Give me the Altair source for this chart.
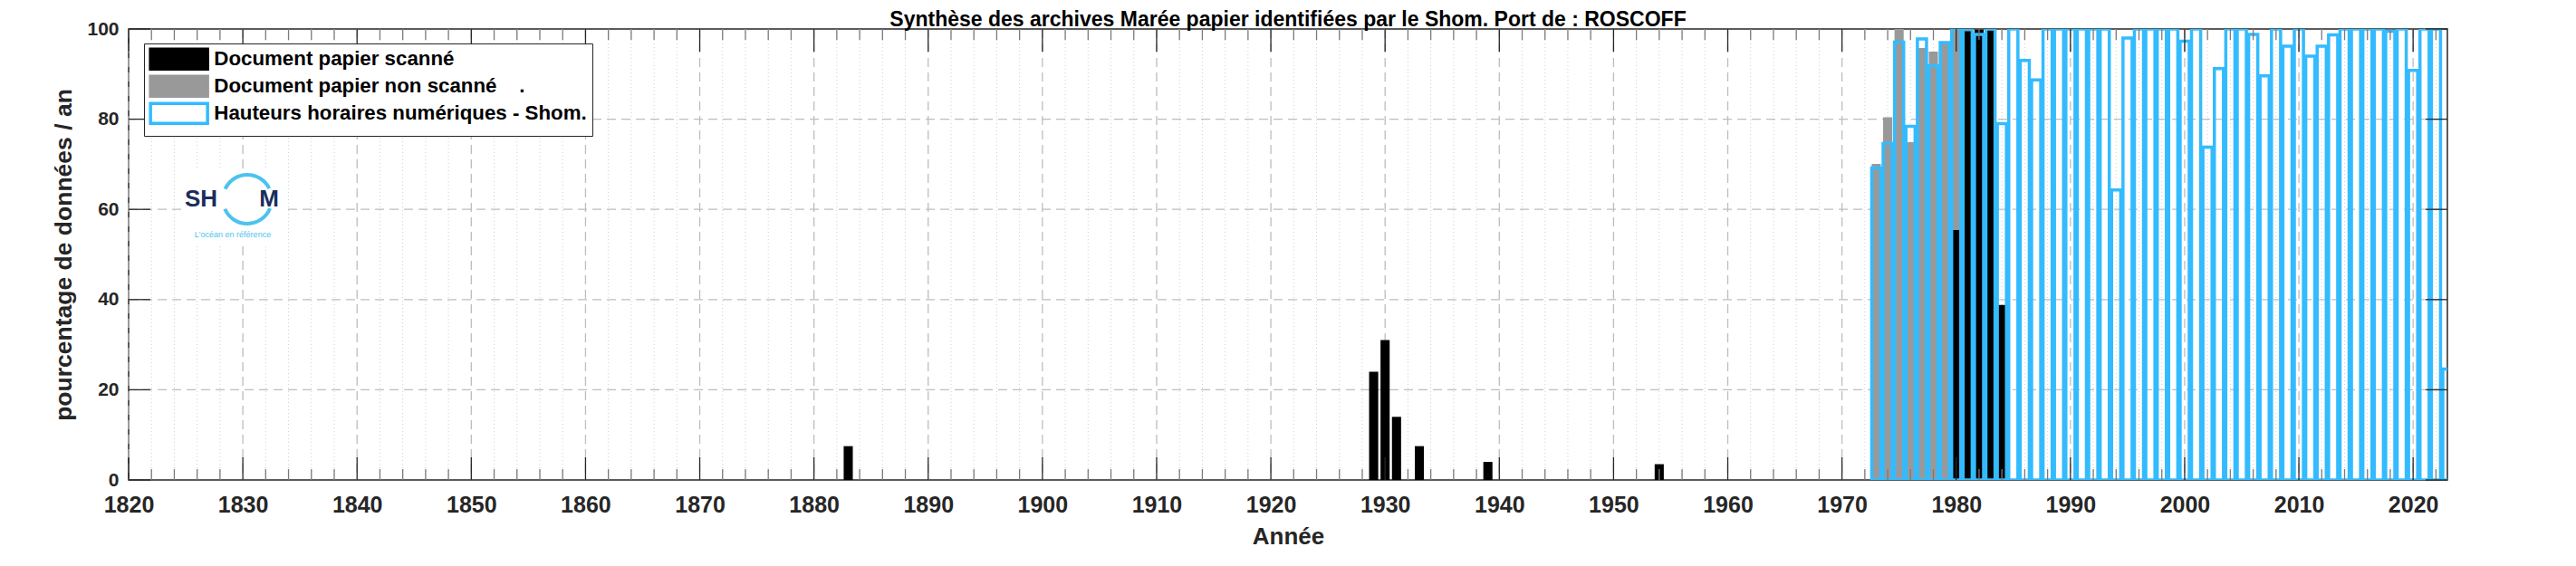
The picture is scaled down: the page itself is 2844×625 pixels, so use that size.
import altair as alt
import pandas as pd

# ---------------- data ----------------
black_years = [1883, 1929, 1930, 1931, 1933, 1939, 1954, 1980, 1981, 1982, 1983, 1984]
black_values = [7.5, 24, 31, 14, 7.5, 4, 3.5, 55.4, 99.5, 99.9, 99.7, 38.8]

gray_years = [1973, 1974, 1975, 1976, 1977, 1978, 1979, 1980, 1981, 1982, 1983]
gray_values = [70.1, 80.4, 100, 74.9, 95.8, 95.0, 97.2, 100, 100, 100, 100]

blue_years = list(range(1973, 2024))
blue_values = [69.2, 74.6, 97.1, 78.4, 97.8, 91.8, 97.0, 100, 100, 98.8,
               100, 79.0, 100, 93.0, 88.7, 100, 100, 100, 100, 100,
               100, 64.3, 98.0, 100, 100, 100, 100, 97.3, 100, 73.8,
               91.2, 100, 100, 98.8, 89.6, 100, 96.2, 100, 94.0, 96.2,
               98.7, 100, 100, 100, 100, 99.5, 100, 90.8, 100, 100,
               24.6]

series_names = ["Document papier scanné",
                "Document papier non scanné\u00a0\u00a0\u00a0\u00a0.",
                "Hauteurs horaires numériques - Shom."]

major_years = list(range(1820, 2021, 10))
minor_years = [y for y in range(1822, 2023, 2) if y % 10 != 0]
y_major = [0, 20, 40, 60, 80, 100]
y_grid = [20, 40, 60, 80]

title_text = "Synthèse des archives Marée papier identifiées par le Shom. Port de : ROSCOFF"

# ---------------- build tables ----------------
rows = []
for yr, v in zip(gray_years, gray_values):
    rows.append({"year": yr, "value": v, "series": series_names[1]})
for yr, v in zip(black_years, black_values):
    rows.append({"year": yr, "value": v, "series": series_names[0]})
for yr, v in zip(blue_years, blue_values):
    rows.append({"year": yr, "value": v, "series": series_names[2]})
bars_df = pd.DataFrame(rows)

W, H = 2560, 498
FONT = "Liberation Sans"
BLUE = "#33bbff"

xs = alt.Scale(domain=[1820, 2023], nice=False, zero=False)
ys = alt.Scale(domain=[0, 100], nice=False)

major_df = pd.DataFrame({"year": major_years})
minor_df = pd.DataFrame({"year": minor_years})
ymaj_df = pd.DataFrame({"v": y_major})
ygrid_df = pd.DataFrame({"v": y_grid})

# grid
minor_grid = alt.Chart(minor_df).mark_rule(color="#cfcfcf", strokeWidth=1, strokeDash=[1, 3]).encode(
    x=alt.X("year:Q", scale=xs), y=alt.value(0), y2=alt.value(H))
major_grid = alt.Chart(major_df).mark_rule(color="#bdbdbd", strokeWidth=1.3, strokeDash=[10, 6]).encode(
    x=alt.X("year:Q", scale=xs), y=alt.value(0), y2=alt.value(H))
hgrid = alt.Chart(ygrid_df).mark_rule(color="#bdbdbd", strokeWidth=1.3, strokeDash=[10, 6]).encode(
    y=alt.Y("v:Q", scale=ys), x=alt.value(0), x2=alt.value(W))

# title as text
one = pd.DataFrame({"a": [0]})
title_mark = alt.Chart(one).mark_text(font=FONT, fontWeight="bold", fontSize=23, color="#000000",
                                      baseline="alphabetic", align="center").encode(
    x=alt.value(W / 2), y=alt.value(-3), text=alt.value(title_text))

# logo background + logo
logo_bg = alt.Chart(one).mark_rect(color="white").encode(
    x=alt.value(58), x2=alt.value(171), y=alt.value(155), y2=alt.value(240))
arc_top = alt.Chart(one).mark_arc(color="#4cc3ee").encode(
    x=alt.value(131), y=alt.value(188), theta=alt.value(5.15), theta2=alt.value(7.4),
    radius=alt.value(29), radius2=alt.value(25))
arc_bot = alt.Chart(one).mark_arc(color="#4cc3ee").encode(
    x=alt.value(131), y=alt.value(188), theta=alt.value(1.95), theta2=alt.value(4.3),
    radius=alt.value(29), radius2=alt.value(25))
logo_sh = alt.Chart(one).mark_text(font=FONT, fontWeight="bold", fontSize=26, color="#1b2d5c",
                                   baseline="middle", align="center").encode(
    x=alt.value(80), y=alt.value(188), text=alt.value("SH"))
logo_m = alt.Chart(one).mark_text(font=FONT, fontWeight="bold", fontSize=26, color="#1b2d5c",
                                  baseline="middle", align="center").encode(
    x=alt.value(155), y=alt.value(188), text=alt.value("M"))
logo_tag = alt.Chart(one).mark_text(font=FONT, fontSize=9, color="#4cc3ee",
                                    baseline="middle", align="center").encode(
    x=alt.value(115), y=alt.value(227), text=alt.value("L'océan en référence"))

# bars
bars = alt.Chart(bars_df).transform_calculate(
    x0="datum.year - 0.4", x1="datum.year + 0.4"
).mark_rect(clip=True).encode(
    x=alt.X("x0:Q", scale=xs,
            axis=alt.Axis(values=major_years, format="d", title="Année", grid=False, ticks=False,
                          domain=False, labelFont=FONT, labelFontWeight="bold", labelFontSize=25,
                          labelColor="#262626", labelPadding=15, titleFont=FONT, titleFontWeight="bold",
                          titleFontSize=26, titleColor="#262626", titlePadding=9, labelFlush=False)),
    x2="x1:Q",
    y=alt.Y("value:Q", scale=ys,
            axis=alt.Axis(values=y_major, title="pourcentage de données / an", grid=False, ticks=False,
                          domain=False, labelFont=FONT, labelFontWeight="bold", labelFontSize=21,
                          labelColor="#262626", labelPadding=11, titleFont=FONT, titleFontWeight="bold",
                          titleFontSize=26.5, titleColor="#262626", titlePadding=11)),
    y2=alt.datum(0),
    fill=alt.Fill("series:N", scale=alt.Scale(domain=series_names, range=["#000000", "#999999", "transparent"]),
                  legend=alt.Legend(title=None, orient="none", legendX=17, legendY=16)),
    stroke=alt.Stroke("series:N", scale=alt.Scale(domain=series_names, range=["#000000", "#999999", BLUE])),
    strokeWidth=alt.condition(alt.datum.series == series_names[2], alt.value(3.5), alt.value(0)),
)

# ticks (inward, MATLAB style)
tick_c = "#262626"
bt_major = alt.Chart(major_df).mark_rule(color=tick_c, strokeWidth=1.3).encode(
    x=alt.X("year:Q", scale=xs), y=alt.value(H), y2=alt.value(H - 25))
tt_major = alt.Chart(major_df).mark_rule(color=tick_c, strokeWidth=1.3).encode(
    x=alt.X("year:Q", scale=xs), y=alt.value(0), y2=alt.value(25))
bt_minor = alt.Chart(minor_df).mark_rule(color="#7a7a7a", strokeWidth=1.3).encode(
    x=alt.X("year:Q", scale=xs), y=alt.value(H), y2=alt.value(H - 12))
tt_minor = alt.Chart(minor_df).mark_rule(color="#7a7a7a", strokeWidth=1.3).encode(
    x=alt.X("year:Q", scale=xs), y=alt.value(0), y2=alt.value(12))
lt = alt.Chart(ymaj_df).mark_rule(color=tick_c, strokeWidth=1.3).encode(
    y=alt.Y("v:Q", scale=ys), x=alt.value(0), x2=alt.value(24))
rt = alt.Chart(ymaj_df).mark_rule(color=tick_c, strokeWidth=1.3).encode(
    y=alt.Y("v:Q", scale=ys), x=alt.value(W), x2=alt.value(W - 24))

chart = alt.layer(
    minor_grid, major_grid, hgrid, logo_bg, arc_top, arc_bot, logo_sh, logo_m, logo_tag,
    bars, bt_major, tt_major, bt_minor, tt_minor, lt, rt, title_mark
).properties(
    width=W, height=H,
    background="white",
    padding={"left": 134, "top": 24, "right": 134, "bottom": 87},
    autosize=alt.AutoSizeParams(type="none"),
).configure_view(
    stroke="#262626", strokeWidth=1.5
).configure_legend(
    strokeColor="#262626", fillColor="white", padding=6, rowPadding=-7,
    symbolType="M-2,-2.2 h12.6 v4.4 h-12.6 z", symbolSize=100, symbolStrokeWidth=3.5,
    labelOffset=49, labelFont=FONT, labelFontWeight="bold", labelFontSize=22.3, labelColor="#000000",
    labelLimit=1000, cornerRadius=0
)

chart.save("out.html", embed_options={"renderer": "svg", "actions": False})
